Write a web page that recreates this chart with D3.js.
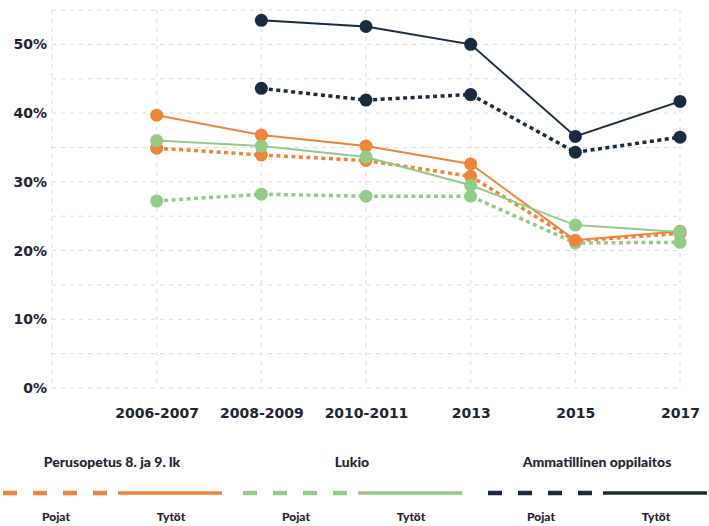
<!DOCTYPE html>
<html>
<head>
<meta charset="utf-8">
<script src="https://cdn.jsdelivr.net/npm/d3@7"></script>
<style>
  body { margin: 0; background: #fff; }
  svg { display: block; font-family: Lato, "Open Sans", sans-serif; font-weight: 900; }
</style>
</head>
<body>
<script>
// years on the x axis
const years = ["2006-2007", "2008-2009", "2010-2011", "2013", "2015", "2017"];
const yTicks = [0, 10, 20, 30, 40, 50];

// values in % (null = no data)
const perusPojat  = [34.9, 33.9, 33.1, 30.8, 21.4, 22.5];
const perusTytot  = [39.7, 36.8, 35.2, 32.6, 21.5, 22.8];
const lukioPojat  = [27.2, 28.2, 27.9, 27.9, 21.1, 21.2];
const lukioTytot  = [36.0, 35.2, 33.6, 29.5, 23.7, 22.7];
const ammPojat    = [null, 43.6, 41.9, 42.7, 34.3, 36.5];
const ammTytot    = [null, 53.5, 52.6, 50.0, 36.6, 41.7];

const groups = ["Perusopetus 8. ja 9. lk", "Lukio", "Ammatillinen oppilaitos"];
const subLabels = ["Pojat", "Tytöt"];
const colors = ["#f0843a", "#93cc86", "#1a2b3f"];

const series = [
  { values: perusPojat, g: 0, dashed: true },
  { values: lukioPojat, g: 1, dashed: true },
  { values: perusTytot, g: 0, dashed: false },
  { values: lukioTytot, g: 1, dashed: false },
  { values: ammPojat, g: 2, dashed: true },
  { values: ammTytot, g: 2, dashed: false }
];

const W = 709, H = 526;
const svg = d3.select("body").append("svg").attr("width", W).attr("height", H);

const x = d3.scalePoint().domain(["start"].concat(years)).range([52, 680]);
const y = d3.scaleLinear().domain([0, 55]).range([388, 10]);

// grid
const grid = svg.append("g").attr("stroke", "#d9d9d9").attr("stroke-width", 1)
  .attr("stroke-dasharray", "4,5").attr("fill", "none");
grid.selectAll("line.h").data(d3.range(0, 56, 5)).enter().append("line")
  .attr("x1", 52).attr("x2", 683).attr("y1", d => y(d)).attr("y2", d => y(d));
grid.selectAll("line.v").data(x.domain()).enter().append("line")
  .attr("y1", y(55)).attr("y2", y(0)).attr("x1", d => x(d)).attr("x2", d => x(d));

// axes
const numFont = "'DejaVu Sans', sans-serif";
const yAxis = svg.append("g").attr("transform", "translate(47,0)")
  .call(d3.axisLeft(y).tickValues(yTicks).tickSize(0).tickFormat(d => d + "%"));
yAxis.select(".domain").remove();
yAxis.selectAll("text").attr("x", 0).attr("font-size", 14).attr("font-family", numFont)
  .attr("font-weight", "bold").attr("fill", "#1e2430");

const xAxis = svg.append("g").attr("transform", "translate(0,413)")
  .call(d3.axisBottom(x).tickValues(years).tickSize(0));
xAxis.select(".domain").remove();
xAxis.selectAll("text").attr("dy", 0).attr("y", 5).attr("font-size", 14).attr("font-family", numFont)
  .attr("font-weight", "bold").attr("fill", "#1e2430");

// lines
const line = d3.line()
  .defined(d => d.v != null)
  .x(d => x(d.year)).y(d => y(d.v));

series.forEach(s => {
  const pts = s.values.map((v, i) => ({ year: years[i], v: v }));
  svg.append("path").datum(pts)
    .attr("fill", "none")
    .attr("stroke", colors[s.g])
    .attr("stroke-width", s.dashed ? 3.5 : 2)
    .attr("stroke-dasharray", s.dashed ? "4,3.5" : null)
    .attr("d", line);
  svg.append("g").selectAll("circle").data(pts.filter(d => d.v != null)).enter()
    .append("circle")
    .attr("cx", d => x(d.year)).attr("cy", d => y(d.v))
    .attr("r", 6.5).attr("fill", colors[s.g]);
});

// legend
const legendX = [3, 243, 488];
const lg = svg.append("g");
groups.forEach((name, g) => {
  const x0 = legendX[g];
  lg.append("text").attr("x", x0 + 109).attr("y", 467).attr("text-anchor", "middle")
    .attr("font-size", 14).attr("fill", "#1e2430").text(name);
  lg.append("line").attr("x1", x0).attr("x2", x0 + 104).attr("y1", 493).attr("y2", 493)
    .attr("stroke", colors[g]).attr("stroke-width", 4.5).attr("stroke-dasharray", "14,16");
  lg.append("line").attr("x1", x0 + 115).attr("x2", x0 + 219).attr("y1", 493).attr("y2", 493)
    .attr("stroke", colors[g]).attr("stroke-width", 3.5);
  subLabels.forEach((t, k) => {
    lg.append("text").attr("x", x0 + 53 + k * 115).attr("y", 521).attr("text-anchor", "middle")
      .attr("font-size", 12).attr("fill", "#1e2430").text(t);
  });
});
</script>
</body>
</html>
